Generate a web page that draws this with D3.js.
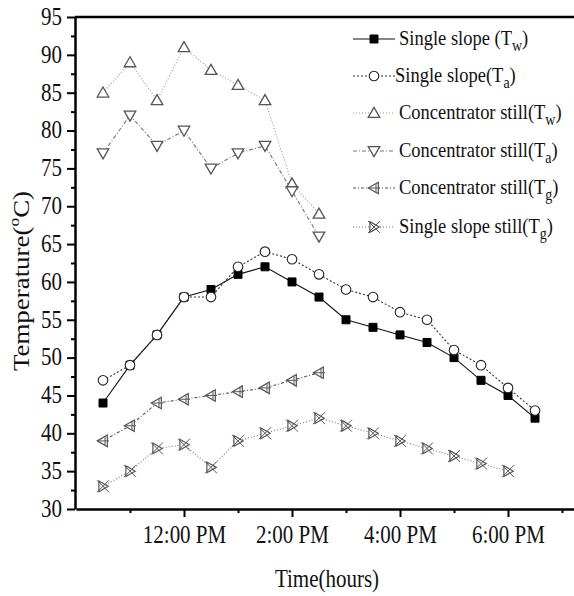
<!DOCTYPE html>
<html>
<head>
<meta charset="utf-8">
<script src="https://cdn.jsdelivr.net/npm/d3@7"></script>
<style>
  body { margin: 0; background: #fff; }
  text { font-family: "Liberation Serif", "Times New Roman", serif; fill: #111; }
</style>
</head>
<body>
<div id="chart"></div>
<script>
var svgWidth = 574;
var svgHeight = 596;
var margin = { top: 17, left: 75, bottom: 87 };
var plotBottom = svgHeight - margin.bottom; // 509

// time of day in hours (10.5 = 10:30 AM)
var timeSingle = [10.5, 11, 11.5, 12, 12.5, 13, 13.5, 14, 14.5, 15, 15.5, 16, 16.5, 17, 17.5, 18, 18.5];
var timeConc = [10.5, 11, 11.5, 12, 12.5, 13, 13.5, 14, 14.5];
var timeStillG = [10.5, 11, 11.5, 12, 12.5, 13, 13.5, 14, 14.5, 15, 15.5, 16, 16.5, 17, 17.5, 18];

var singleTw = [44, 49, 53, 58, 59, 61, 62, 60, 58, 55, 54, 53, 52, 50, 47, 45, 42];
var singleTa = [47, 49, 53, 58, 58, 62, 64, 63, 61, 59, 58, 56, 55, 51, 49, 46, 43];
var concTw = [85, 89, 84, 91, 88, 86, 84, 73, 69];
var concTa = [77, 82, 78, 80, 75, 77, 78, 72, 66];
var concTg = [39, 41, 44, 44.5, 45, 45.5, 46, 47, 48];
var singleTg = [33, 35, 38, 38.5, 35.5, 39, 40, 41, 42, 41, 40, 39, 38, 37, 36, 35];

var yTicks = [30, 35, 40, 45, 50, 55, 60, 65, 70, 75, 80, 85, 90, 95];
var xTicks = [12, 14, 16, 18];
var xMinor = [11, 13, 15, 17, 19];

var series = [
  { name: "Single slope (T", sub: "w", close: ")", t: timeSingle, v: singleTw, marker: "square", dash: null, line: "#111", lx: 399 },
  { name: "Single slope(T", sub: "a", close: ")", t: timeSingle, v: singleTa, marker: "circle", dash: "2,2", line: "#333", lx: 395 },
  { name: "Concentrator still(T", sub: "w", close: ")", t: timeConc, v: concTw, marker: "up", dash: "1,2", line: "#999", lx: 399 },
  { name: "Concentrator still(T", sub: "a", close: ")", t: timeConc, v: concTa, marker: "down", dash: "4,2,1,2", line: "#777", lx: 399 },
  { name: "Concentrator still(T", sub: "g", close: ")", t: timeConc, v: concTg, marker: "left", dash: "3,2,1,2", line: "#555", lx: 399 },
  { name: "Single slope still(T", sub: "g", close: ")", t: timeStillG, v: singleTg, marker: "bow", dash: "1,2", line: "#777", lx: 399 }
];

var stretch = 1.17;

var svg = d3.select("#chart").append("svg")
  .attr("width", svgWidth)
  .attr("height", svgHeight);

var x = d3.scaleLinear().domain([10, 19.4]).range([76, 76 + 54 * 9.4]);
var y = d3.scaleLinear().domain([30, 95]).range([plotBottom, margin.top]);

// top frame line
svg.append("line")
  .attr("x1", margin.left).attr("x2", svgWidth)
  .attr("y1", margin.top).attr("y2", margin.top)
  .attr("stroke", "#000").attr("stroke-width", 2.5);

// y axis
var yAxis = svg.append("g")
  .attr("transform", `translate(${margin.left},0)`)
  .call(d3.axisLeft(y).tickValues(yTicks).tickSize(8).tickSizeOuter(0).tickPadding(5));
yAxis.selectAll("text")
  .attr("font-size", "21px")
  .attr("font-family", "Liberation Serif")
  .attr("fill", "#111")
  .attr("dy", "0.3em")
  .attr("transform", `scale(1,${stretch})`);
svg.append("g")
  .attr("transform", `translate(${margin.left},0)`)
  .call(d3.axisLeft(y).tickValues(d3.range(32.5, 95, 5)).tickSize(4).tickSizeOuter(0).tickFormat(""))
  .select(".domain").remove();

// x axis
var xAxis = svg.append("g")
  .attr("transform", `translate(0,${plotBottom})`)
  .call(d3.axisBottom(x).tickValues(xTicks).tickSize(8).tickSizeOuter(0).tickPadding(6)
    .tickFormat(function(h) { return (h > 12 ? h - 12 : h) + ":00 PM"; }));
xAxis.selectAll("text")
  .attr("font-size", "21px")
  .attr("font-family", "Liberation Serif")
  .attr("fill", "#111")
  .attr("transform", `scale(1,${stretch})`);
svg.append("g")
  .attr("transform", `translate(0,${plotBottom})`)
  .call(d3.axisBottom(x).tickValues(xMinor).tickSize(4).tickSizeOuter(0).tickFormat(""))
  .select(".domain").remove();

svg.selectAll(".domain").attr("stroke", "#000").attr("stroke-width", 2.5);
svg.selectAll(".tick line").attr("stroke", "#000").attr("stroke-width", 2);

// axis titles
svg.append("text")
  .attr("transform", `translate(327,587) scale(1,${stretch})`)
  .attr("text-anchor", "middle")
  .attr("font-size", "21px")
  .text("Time(hours)");

var ylab = svg.append("text")
  .attr("transform", `translate(29,281) rotate(-90) scale(${stretch},1)`)
  .attr("text-anchor", "middle")
  .attr("font-size", "23px");
ylab.append("tspan").text("Temperature(");
ylab.append("tspan").attr("font-size", "15px").attr("dy", "-10").text("o");
ylab.append("tspan").attr("dy", "10").text("C)");

// marker drawing
function drawMarker(g, kind) {
  var stroke = "#555";
  if (kind === "square") {
    g.append("path").attr("d", d3.symbol(d3.symbolSquare, 64)())
      .attr("fill", "#000").attr("stroke", "#000");
  } else if (kind === "circle") {
    g.append("path").attr("d", d3.symbol(d3.symbolCircle, 72)())
      .attr("fill", "#fff").attr("stroke", "#222").attr("stroke-width", 1.1);
  } else if (kind === "up") {
    g.append("path").attr("d", d3.symbol(d3.symbolTriangle, 58)())
      .attr("transform", "translate(0,1)")
      .attr("fill", "#fff").attr("stroke", stroke).attr("stroke-width", 1.3);
  } else if (kind === "down") {
    g.append("path").attr("d", d3.symbol(d3.symbolTriangle, 58)())
      .attr("transform", "translate(0,-1) rotate(180)")
      .attr("fill", "#fff").attr("stroke", stroke).attr("stroke-width", 1.3);
  } else if (kind === "left") {
    g.append("path").attr("d", d3.symbol(d3.symbolTriangle, 58)())
      .attr("transform", "translate(1,0) rotate(-90)")
      .attr("fill", "#fff").attr("stroke", stroke).attr("stroke-width", 1.2);
    g.append("path").attr("d", "M-6,0H6M2,-5V5")
      .attr("stroke", stroke).attr("stroke-width", 1);
  } else if (kind === "bow") {
    g.append("path").attr("d", d3.symbol(d3.symbolTriangle, 50)())
      .attr("transform", "translate(-1,0) rotate(90)")
      .attr("fill", "#fff").attr("stroke", stroke).attr("stroke-width", 1.2);
    g.append("path").attr("d", "M-6,-6L6,6M-6,6L6,-6")
      .attr("stroke", stroke).attr("stroke-width", 1);
  }
}

var line = d3.line().x(d => x(d[0])).y(d => y(d[1]));

series.forEach(function(s) {
  var pts = s.t.map((t, i) => [t, s.v[i]]);
  svg.append("path")
    .datum(pts)
    .attr("d", line)
    .attr("fill", "none")
    .attr("stroke", s.line)
    .attr("stroke-width", 1.1)
    .attr("stroke-dasharray", s.dash);
});

// markers drawn after all lines
series.forEach(function(s) {
  var pts = s.t.map((t, i) => [t, s.v[i]]);
  svg.append("g").selectAll("g")
    .data(pts)
    .enter()
    .append("g")
    .attr("transform", d => `translate(${x(d[0])},${y(d[1])})`)
    .each(function() { drawMarker(d3.select(this), s.marker); });
});

// legend
var legendRows = [39, 76, 113, 151, 188, 227];
series.forEach(function(s, i) {
  var ly = legendRows[i];
  svg.append("line")
    .attr("x1", 353).attr("x2", 395)
    .attr("y1", ly).attr("y2", ly)
    .attr("stroke", s.line).attr("stroke-width", 1.1)
    .attr("stroke-dasharray", s.dash);
  drawMarker(svg.append("g").attr("transform", `translate(374,${ly})`), s.marker);
  var t = svg.append("text")
    .attr("transform", `translate(${s.lx},${ly + 6}) scale(1,${stretch})`)
    .attr("font-size", "18.5px");
  t.append("tspan").text(s.name);
  t.append("tspan").attr("font-size", "14px").attr("dy", "5").text(s.sub);
  t.append("tspan").attr("dy", "-5").text(s.close);
});
</script>
</body>
</html>
